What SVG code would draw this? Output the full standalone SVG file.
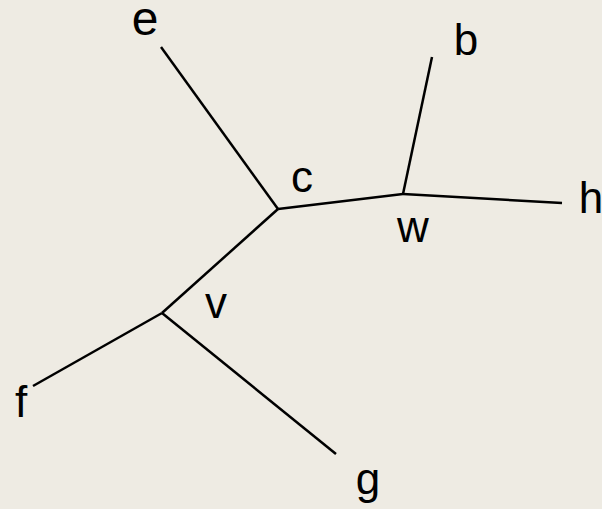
<svg xmlns="http://www.w3.org/2000/svg" width="602" height="509" viewBox="0 0 602 509">
<style>
.e{stroke:#000;stroke-width:2.5;fill:none;stroke-linecap:butt}
.l{font-family:"Liberation Sans",Arial,sans-serif;font-size:44px;fill:#000;text-anchor:middle}
</style>
<rect width="602" height="509" fill="#EEEBE3"/>
<g id="connectors">
<line class="e" x1="161" y1="47" x2="278" y2="209"/>
<line class="e" x1="278" y1="209" x2="403" y2="194"/>
<line class="e" x1="432" y1="57" x2="403" y2="194"/>
<line class="e" x1="403" y1="194" x2="562" y2="203"/>
<line class="e" x1="278" y1="209" x2="162" y2="313"/>
<line class="e" x1="162" y1="313" x2="33" y2="386"/>
<line class="e" x1="162" y1="313" x2="336" y2="454"/>
</g>
<g id="e"><text class="l" x="145" y="35" style="font-size:48px">e</text></g>
<g id="b"><text class="l" x="466" y="55">b</text></g>
<g id="c"><text class="l" x="302" y="192">c</text></g>
<g id="w"><text class="l" x="413" y="242">w</text></g>
<g id="h"><text class="l" x="591" y="213">h</text></g>
<g id="v"><text class="l" x="216" y="318">v</text></g>
<g id="f"><text class="l" x="21" y="417">f</text></g>
<g id="g"><text class="l" x="368" y="494">g</text></g>
</svg>
